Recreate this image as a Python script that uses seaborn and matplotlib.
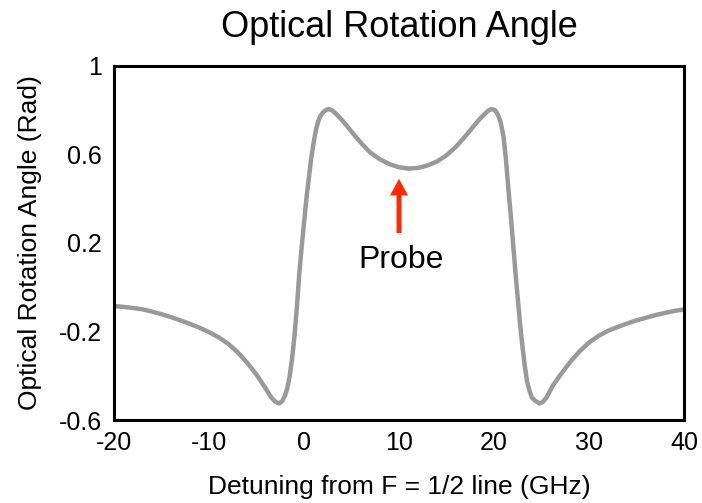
import matplotlib
matplotlib.use("Agg")
import matplotlib.pyplot as plt
import seaborn as sns
import pandas as pd

# Data
detuning = [-20, -19, -18, -17, -16, -15, -14, -13, -12, -11, -10, -9, -8, -7, -6, -5,
            -4, -3.5, -3.0, -2.6, -2.3, -2.0, -1.75, -1.5, -1.25, -1.0, -0.75, -0.5,
            -0.25, 0, 0.25, 0.5, 0.75, 1.0, 1.25, 1.5, 1.75, 2.0, 2.3, 2.6, 3.0, 3.5,
            4.0, 4.5, 5.0, 5.5, 6.0, 6.5, 7.0, 7.5, 8.0, 9.0, 10.0, 11.0, 12.0, 13.0,
            14.0, 15, 16, 17, 18, 18.5,
            19, 19.35, 19.7, 20.1, 20.4, 20.7, 21.0, 21.25, 21.5, 21.75, 22.0, 22.25,
            22.5, 22.75, 23.0, 23.25, 23.5, 23.75, 24.0, 24.4, 24.8, 25.1, 25.5, 26.2,
            27, 28, 29, 30, 31, 32, 33, 34, 35, 36, 37, 38, 39, 40]
rotation = [-0.085, -0.089, -0.094, -0.100, -0.110, -0.122, -0.135, -0.150, -0.166,
            -0.183, -0.203, -0.226, -0.255, -0.293, -0.34, -0.395, -0.46, -0.495,
            -0.518, -0.525, -0.515, -0.49, -0.455, -0.40, -0.32, -0.22, -0.09, 0.06,
            0.18, 0.29, 0.40, 0.49, 0.58, 0.65, 0.71, 0.75, 0.775, 0.79, 0.80, 0.805,
            0.798, 0.778, 0.755, 0.73, 0.703, 0.677, 0.652, 0.629, 0.608, 0.592,
            0.578, 0.556, 0.542, 0.536, 0.539, 0.550, 0.568, 0.596, 0.635, 0.683,
            0.735, 0.760,
            0.782, 0.796, 0.805, 0.80, 0.78,
            0.745, 0.68, 0.58, 0.45, 0.33, 0.20, 0.07, -0.05, -0.17, -0.27, -0.36,
            -0.43, -0.47, -0.50, -0.515, -0.525, -0.52, -0.50, -0.444, -0.395, -0.339,
            -0.29, -0.25, -0.22, -0.197, -0.18, -0.164, -0.150, -0.138, -0.126,
            -0.116, -0.107, -0.10]

x_ticks = [-20, -10, 0, 10, 20, 30, 40]
x_tick_labels = ["-20", "-10", "0", "10", "20", "30", "40"]
y_ticks = [-0.6, -0.4, -0.2, 0.0, 0.2, 0.4, 0.6, 0.8, 1.0]
y_tick_labels = ["-0.6", "", "-0.2", "", "0.2", "", "0.6", "", "1"]

probe_x = 10
probe_arrow = [0.245, 0.49]
probe_text_y = 0.125

sns.set_theme(style="white")
plt.rcParams["font.family"] = ["Liberation Sans", "DejaVu Sans"]

fig = plt.figure(figsize=(7.02, 5.03), dpi=100)
ax = fig.add_axes([0.1624, 0.165, 0.812, 0.704])

df = pd.DataFrame({"Detuning": detuning, "Rotation": rotation})
sns.lineplot(data=df, x="Detuning", y="Rotation", ax=ax, color="#999999",
             linewidth=3.2, sort=False, estimator=None)

ax.set_xlim(-20, 40)
ax.set_ylim(-0.6, 1.0)
ax.set_xticks(x_ticks)
ax.set_xticklabels(x_tick_labels)
ax.set_yticks(y_ticks)
ax.set_yticklabels(y_tick_labels)

for s in ax.spines.values():
    s.set_visible(True)
    s.set_color("black")
    s.set_linewidth(2.2)

ax.tick_params(axis="both", direction="in", length=7, width=2.2, colors="black",
               labelsize=18, labelcolor="black")
ax.tick_params(axis="y", pad=9)
ax.tick_params(axis="x", pad=8)

ax.set_xlabel("Detuning from F = 1/2 line (GHz)", fontsize=19, color="black", labelpad=14)
ax.set_ylabel("Optical Rotation Angle (Rad)", fontsize=19, color="black", labelpad=12)
ax.set_title("Optical Rotation Angle", fontsize=26, color="black", pad=21)

ax.annotate("", xy=(probe_x, probe_arrow[1]), xytext=(probe_x, probe_arrow[0]),
            arrowprops=dict(facecolor="#FF2A00", edgecolor="none", width=3.6,
                            headwidth=13, headlength=12, shrink=0))
ax.text(probe_x + 0.2, probe_text_y, "Probe", fontsize=23, color="black",
        ha="center", va="center")

ax.grid(False)
fig.savefig("out.png", dpi=100)
